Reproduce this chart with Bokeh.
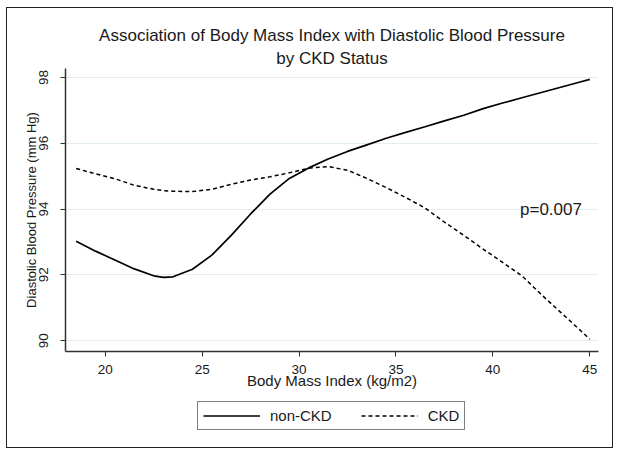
from bokeh.plotting import figure
from bokeh.layouts import column
from bokeh.models import (Range1d, FixedTicker, Title, Legend, LegendItem, Label,
                          ColumnDataSource)
from bokeh.embed import file_html
from bokeh.resources import INLINE

# ---- data ----
bmi = [18.5, 19.5, 20.5, 21.5, 22.5, 23.0, 23.5, 24.5, 25.5, 26.5, 27.5, 28.5,
       29.5, 30.5, 31.5, 32.5, 33.5, 34.5, 35.5, 36.5, 37.5, 38.5, 39.5, 40.5,
       41.5, 42.5, 43.5, 44.5, 45.0]
non_ckd = [93.02, 92.72, 92.45, 92.18, 91.97, 91.92, 91.94, 92.17, 92.60, 93.20,
           93.85, 94.45, 94.93, 95.25, 95.52, 95.75, 95.95, 96.15, 96.33, 96.50,
           96.68, 96.85, 97.05, 97.22, 97.38, 97.54, 97.70, 97.86, 97.94]
ckd = [95.23, 95.07, 94.92, 94.72, 94.60, 94.56, 94.54, 94.53, 94.60, 94.75,
       94.88, 94.98, 95.10, 95.24, 95.29, 95.18, 94.93, 94.65, 94.35, 94.03,
       93.60, 93.20, 92.78, 92.38, 91.97, 91.40, 90.86, 90.32, 90.04]
x_ticks = [20, 25, 30, 35, 40, 45]
y_ticks = [90, 92, 94, 96, 98]
series_labels = ["non-CKD", "CKD"]
title_lines = ["Association of Body Mass Index with Diastolic Blood Pressure",
               "by CKD Status"]
p_text = "p=0.007"

FONT = "Liberation Sans"
TXT = "#1a1a1a"
SOLID = dict(line_color="black", line_width=1.7)
DASHED = dict(line_color="black", line_width=1.5, line_dash="4 3")

src = ColumnDataSource(dict(bmi=bmi, non_ckd=non_ckd, ckd=ckd))

# ---------------- main chart ----------------
p = figure(frame_width=533, frame_height=283,
           output_backend="svg", toolbar_location=None, title=None,
           x_range=Range1d(17.95, 45.45), y_range=Range1d(89.67, 98.27),
           min_border_left=58, min_border_right=14, min_border_top=60,
           min_border_bottom=44)
p.background_fill_color = "white"
p.border_fill_color = "white"
p.outline_line_color = None

# titles (second line first: it sits nearest the frame)
p.add_layout(Title(text=title_lines[1], align="center", text_font=FONT,
                   text_font_size="17px", text_font_style="normal",
                   text_color=TXT, standoff=1), "above")
p.add_layout(Title(text=title_lines[0], align="center", text_font=FONT,
                   text_font_size="17px", text_font_style="normal",
                   text_color=TXT, standoff=4), "above")

for ax in (p.xaxis[0], p.yaxis[0]):
    ax.axis_line_color = "#333333"
    ax.axis_line_width = 1.5
    ax.major_tick_line_color = "#333333"
    ax.major_tick_line_width = 1
    ax.major_tick_out = 5
    ax.major_tick_in = 0
    ax.minor_tick_line_color = None
    ax.major_label_text_font = FONT
    ax.major_label_text_font_size = "13.5px"
    ax.major_label_text_color = TXT
    ax.axis_label_text_font = FONT
    ax.axis_label_text_font_style = "normal"
    ax.axis_label_text_color = TXT

p.xaxis.ticker = FixedTicker(ticks=x_ticks)
p.yaxis.ticker = FixedTicker(ticks=y_ticks)
p.xaxis.axis_label = "Body Mass Index (kg/m2)"
p.yaxis.axis_label = "Diastolic Blood Pressure (mm Hg)"
p.xaxis.axis_label_text_font_size = "15px"
p.yaxis.axis_label_text_font_size = "13px"
p.xaxis.major_label_standoff = 8
p.xaxis.axis_label_standoff = -5
p.yaxis.major_label_orientation = "vertical"
p.yaxis.major_label_standoff = 12
p.yaxis.axis_label_standoff = -2

p.xgrid.grid_line_color = None
p.ygrid.grid_line_color = "#e2eded"
p.ygrid.grid_line_width = 1

p.line("bmi", "non_ckd", source=src, **SOLID)
p.line("bmi", "ckd", source=src, **DASHED)

p.add_layout(Label(x=41.4, y=94, text=p_text, text_baseline="middle",
                   text_font=FONT, text_font_size="17px", text_color=TXT))

# ---------------- legend strip (frame aligned with the chart's frame) -------
lg = figure(width=605, height=52, output_backend="svg", toolbar_location=None,
            title=None, x_axis_type=None, y_axis_type=None,
            x_range=Range1d(0, 1), y_range=Range1d(0, 1), min_border=0)
lg.outline_line_color = None
lg.background_fill_color = "white"
lg.border_fill_color = "white"
lg.xgrid.grid_line_color = None
lg.ygrid.grid_line_color = None
# key renderers reuse the series data; it lies outside this strip's ranges
k1 = lg.line("bmi", "non_ckd", source=src, **SOLID)
k2 = lg.line("bmi", "ckd", source=src, **DASHED)

legend = Legend(items=[LegendItem(label=series_labels[0], renderers=[k1]),
                       LegendItem(label=series_labels[1], renderers=[k2])],
                orientation="horizontal", location=(132, 17),
                border_line_color="black", border_line_width=1.5,
                padding=5, spacing=29, label_standoff=10,
                glyph_width=57, glyph_height=15, label_height=15,
                label_text_font=FONT, label_text_font_size="15px",
                label_text_color=TXT, margin=0)
lg.add_layout(legend, "center")

page = column(p, lg, spacing=0, margin=(7, 0, 0, 6),
              styles={"border": "1.5px solid #222"})

open("out.html", "w").write(file_html(page, INLINE))
